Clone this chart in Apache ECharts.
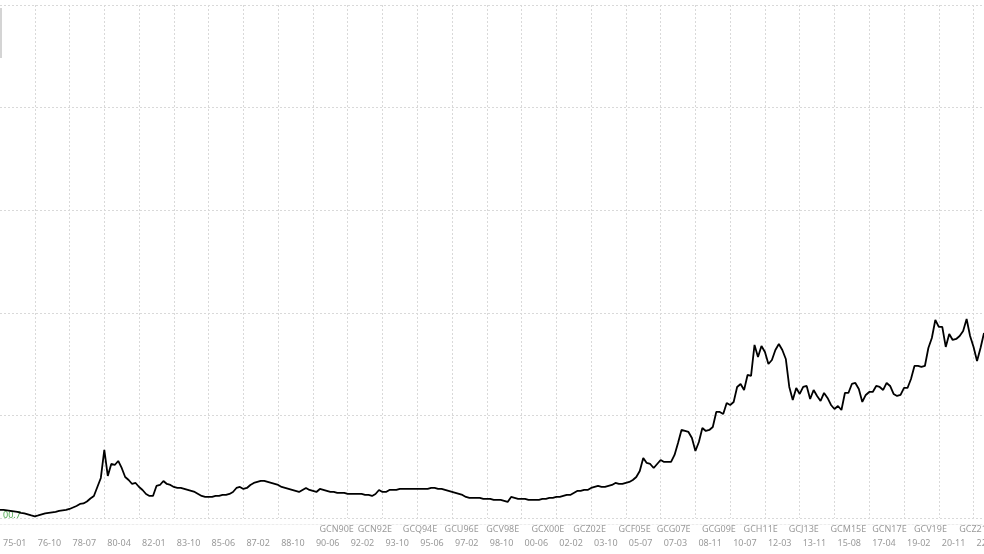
<!DOCTYPE html>
<html>
<head>
<meta charset="utf-8">
<script src="https://cdn.jsdelivr.net/npm/echarts@6/dist/echarts.min.js"></script>
<style>
  html, body { margin: 0; padding: 0; background: #fff; }
  #main { width: 984px; height: 554px; }
</style>
</head>
<body>
<div id="main"></div>
<script>
  // bottom row date ticks, one every 10 points
  var dateTicks = ['75-01','76-10','78-07','80-04','82-01','83-10','85-06','87-02','88-10','90-06',
                   '92-02','93-10','95-06','97-02','98-10','00-06','02-02','03-10','05-07','07-03',
                   '08-11','10-07','12-03','13-11','15-08','17-04','19-02','20-11','22-07'];
  // upper row: contract codes and the point they sit on
  var contractCodes = ['GCN90E','GCN92E','GCQ94E','GCU96E','GCV98E','GCX00E','GCZ02E','GCF05E',
                       'GCG07E','GCG09E','GCH11E','GCJ13E','GCM15E','GCN17E','GCV19E','GCZ21E'];
  var contractIdx = [91,102,115,127,139,152,164,177,188,201,213,226,238,250,262,275];

  // price values
  var prices = [
    181,181,176,171,166,161,151,146,136,126,
    118,126,136,146,151,156,161,171,176,181,
    191,206,221,241,246,266,296,321,411,501,
    781,521,641,631,671,601,511,481,441,451,
    411,381,341,321,321,421,431,471,441,431,
    411,401,401,391,381,371,361,341,321,311,
    311,311,321,321,331,331,341,361,401,411,
    391,401,431,451,461,471,471,461,451,441,
    431,411,401,391,381,371,361,381,401,381,
    371,361,391,381,371,361,361,351,351,351,
    341,341,341,341,341,331,331,321,341,381,
    361,361,381,381,381,391,391,391,391,391,
    391,391,391,391,401,401,391,391,381,371,
    361,351,341,331,311,301,301,301,301,291,
    291,291,281,281,281,271,261,311,301,291,
    291,291,281,281,281,281,291,291,301,301,
    311,311,321,331,331,351,371,371,381,381,
    401,411,421,411,411,421,431,451,441,441,
    451,461,481,511,571,701,651,641,601,641,
    681,661,661,661,731,851,981,971,961,901,
    771,861,1001,971,981,1011,1161,1161,1141,1251,
    1231,1261,1411,1441,1381,1531,1521,1831,1711,1821,
    1761,1641,1681,1781,1841,1781,1691,1411,1281,1401,
    1341,1411,1421,1291,1381,1321,1271,1351,1301,1231,
    1191,1221,1181,1351,1351,1441,1451,1391,1261,1331,
    1361,1361,1421,1411,1381,1451,1421,1341,1321,1331,
    1401,1401,1491,1621,1621,1611,1621,1801,1901,2081,
    2011,2011,1811,1941,1881,1891,1921,1971,2091,1921,
    1811,1671,1801,1951
  ];
  var minPrice = 100.7;

  var cats = prices.map(function (v, i) { return String(i); });

  var myChart = echarts.init(document.getElementById('main'));
  window.addEventListener('resize', myChart.resize);

  var gridLine = { color: '#d9d9d9', width: 1, type: [2, 2] };
  var labelFont = { color: '#9a9a9a', fontSize: 9, fontFamily: 'Noto Sans' };

  myChart.setOption({
    animation: false,
    grid: { left: 0, right: 0, top: 5, bottom: 36, containLabel: false, outerBoundsMode: 'none' },
    xAxis: [
      {
        type: 'category',
        data: cats,
        boundaryGap: false,
        axisLine: { show: false },
        axisTick: { show: false },
        splitLine: {
          show: true,
          interval: function (i) { return i % 10 === 0 && i > 0; },
          lineStyle: gridLine
        },
        axisLabel: Object.assign({
          interval: function (i) { return i % 10 === 0; },
          formatter: function (v, i) { return dateTicks[i / 10] || ''; },
          align: 'left',
          padding: [0, 0, 0, 3],
          margin: 21
        }, labelFont)
      },
      {
        type: 'category',
        data: cats,
        boundaryGap: false,
        position: 'bottom',
        offset: 6,
        axisLine: { show: true, lineStyle: { color: '#ececec', type: [2, 2] } },
        axisTick: { show: false },
        splitLine: { show: false },
        axisLabel: Object.assign({
          interval: function (i) { return contractIdx.indexOf(i) >= 0; },
          formatter: function (v, i) {
            var k = contractIdx.indexOf(i);
            return k >= 0 ? contractCodes[k] : '';
          },
          align: 'left',
          padding: [0, 0, 0, 3],
          margin: 1
        }, labelFont)
      }
    ],
    yAxis: [
      {
        type: 'value',
        min: minPrice,
        max: minPrice + 5130,
        show: false
      },
      {
        // only for the horizontal grid lines
        type: 'value',
        min: 0,
        max: 5,
        interval: 1,
        axisLine: { show: false },
        axisTick: { show: false },
        axisLabel: { show: false },
        splitLine: { show: true, lineStyle: gridLine }
      }
    ],
    graphic: [
      { type: 'rect', left: 0, top: 8, shape: { width: 2, height: 50 }, style: { fill: '#d4d4d4' } },
      {
        type: 'text', left: 3, top: 511,
        style: { text: '00.7', fill: '#55aa55', fontSize: 9, fontFamily: 'Noto Sans' }
      }
    ],
    series: [
      {
        name: 'GC',
        type: 'line',
        xAxisIndex: 0,
        yAxisIndex: 0,
        showSymbol: false,
        lineStyle: { color: '#000', width: 1.8 },
        data: prices
      }
    ]
  });
</script>
</body>
</html>
